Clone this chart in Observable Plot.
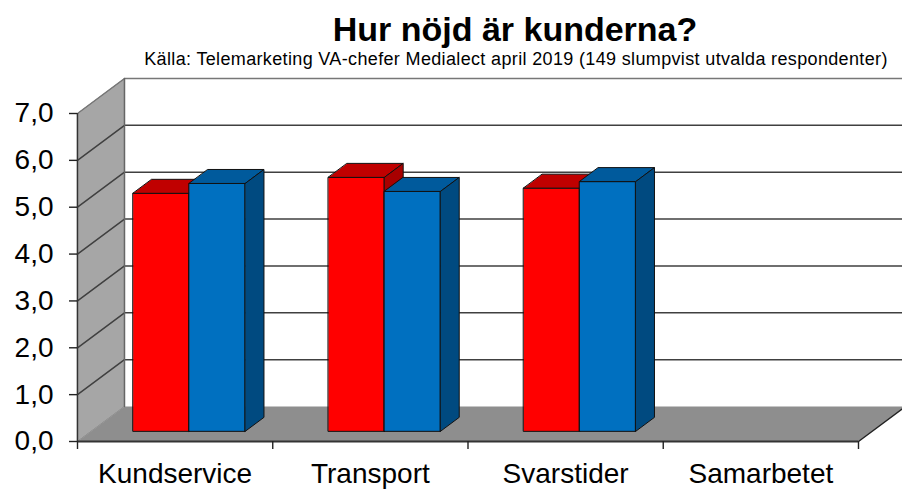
<!DOCTYPE html>
<html>
<head>
<meta charset="utf-8">
<script src="https://cdn.jsdelivr.net/npm/d3@7"></script>
<script src="https://cdn.jsdelivr.net/npm/@observablehq/plot@0.6"></script>
<style>
html,body{margin:0;padding:0;background:#fff;overflow:hidden}
body{width:902px;height:489px;font-family:"Liberation Sans",Arial,sans-serif;color:#000}
#head{height:70px;width:772px;margin-left:130px;text-align:center;white-space:nowrap}
#title{font-size:34px;font-weight:bold;line-height:36px;padding-top:11px;margin-left:-2px}
#sub{font-size:18px;letter-spacing:.35px;line-height:16px;margin-top:4px;margin-left:-30px;margin-right:-30px}
svg{display:block}
</style>
</head>
<body>
<div id="head">
<div id="title">Hur nöjd är kunderna?</div>
<div id="sub">Källa: Telemarketing VA-chefer Medialect april 2019 (149 slumpvist utvalda respondenter)</div>
</div>
<div id="chart"></div>
<script>
const categories = ["Kundservice", "Transport", "Svarstider", "Samarbetet"];
const redValues = [5.08, 5.42, 5.19, null];
const blueValues = [5.29, 5.12, 5.33, null];
const yTicks = [0, 1, 2, 3, 4, 5, 6, 7];

// Oblique projection of the 3D chart box, in data units
const depthX = 0.2407, depthY = 0.747;
const gap = 0.215, barW = 0.287, d0 = 0.29, d1 = 0.69;
const xEnd = categories.length;
const proj = (x, y, d) => ({x: x + d * depthX, y: y + d * depthY});

const faces = [];
function face(id, fill, pts) {
  pts.forEach(([x, y, d]) => faces.push({id, fill, ...proj(x, y, d)}));
}
function bar(id, x, v, cFront, cTop, cSide) {
  const x1 = x + barW;
  face(id + "f", cFront, [[x, 0, d0], [x1, 0, d0], [x1, v, d0], [x, v, d0]]);
  face(id + "t", cTop, [[x, v, d0], [x1, v, d0], [x1, v, d1], [x, v, d1]]);
  face(id + "s", cSide, [[x1, 0, d0], [x1, 0, d1], [x1, v, d1], [x1, v, d0]]);
}
categories.forEach((c, i) => {
  const x = i + gap;
  if (redValues[i] != null) bar("r" + i, x, redValues[i], "#ff0000", "#c00000", "#a80000");
  if (blueValues[i] != null) bar("b" + i, x + barW, blueValues[i], "#0070c0", "#005a9c", "#004a80");
});

const wall = [[0, 0, 0], [0, 0, 1], [0, 7, 1], [0, 7, 0]].map(([x, y, d]) => proj(x, y, d));
const floor = [[0, 0, 0], [xEnd, 0, 0], [xEnd, 0, 1], [0, 0, 1]].map(([x, y, d]) => proj(x, y, d));
const grid = yTicks.filter(v => v > 0).flatMap(v =>
  [[0, v, 0], [0, v, 1], [xEnd, v, 1]].map(([x, y, d]) => ({v, ...proj(x, y, d)})));
const backEdge = [[0, 7, 1], [0, 0, 1]].map(([x, y, d]) => proj(x, y, d));
const sideEdge = [[xEnd, 0, 0], [xEnd, 0, 1]].map(([x, y, d]) => proj(x, y, d));

const chart = Plot.plot({
  width: 902,
  height: 419,
  marginLeft: 77,
  marginRight: 0,
  marginTop: 8,
  marginBottom: 48,
  x: {domain: [0, 4.2254], axis: null},
  y: {domain: [0, 7 + depthY], axis: null},
  color: {type: "identity"},
  style: {fontFamily: "'Liberation Sans', Arial, sans-serif", color: "#000", background: "#fff"},
  marks: [
    Plot.line(wall, {x: "x", y: "y", curve: "linear-closed", fill: "#a6a6a6", stroke: "#555", strokeWidth: 0.5}),
    Plot.line(floor, {x: "x", y: "y", curve: "linear-closed", fill: "#8e8e8e", stroke: "none"}),
    Plot.line(grid, {x: "x", y: "y", z: "v", stroke: d => d.v === 7 ? "#777" : "#404040", strokeWidth: 1.5}),
    Plot.line(backEdge, {x: "x", y: "y", stroke: "#666", strokeWidth: 1.5}),
    Plot.line(sideEdge, {x: "x", y: "y", stroke: "#222", strokeWidth: 1.4}),
    Plot.line(faces, {x: "x", y: "y", z: "id", fill: "fill", stroke: "#111", strokeWidth: 1, curve: "linear-closed"}),
    Plot.ruleX([0], {y1: 0, y2: 7, stroke: "#333", strokeWidth: 1.4}),
    Plot.ruleY([0], {x1: 0, x2: xEnd, stroke: "#333", strokeWidth: 2}),
    Plot.axisY({
      ticks: yTicks, tickSize: 8, tickPadding: 16, strokeWidth: 1.4, stroke: "#222", fill: "#000",
      fontSize: 28, tickFormat: v => v.toFixed(1).replace(".", ","), label: null
    }),
    Plot.axisX({
      ticks: d3.range(categories.length + 1), tickSize: 8, stroke: "#222", strokeWidth: 1.4,
      tickFormat: () => "", label: null
    }),
    Plot.axisX({
      ticks: categories.map((c, i) => i + 0.5), tickSize: 0, tickPadding: 22, fill: "#000",
      fontSize: 28, tickFormat: v => categories[v - 0.5], label: null
    })
  ]
});
document.getElementById("chart").append(chart);
</script>
</body>
</html>
